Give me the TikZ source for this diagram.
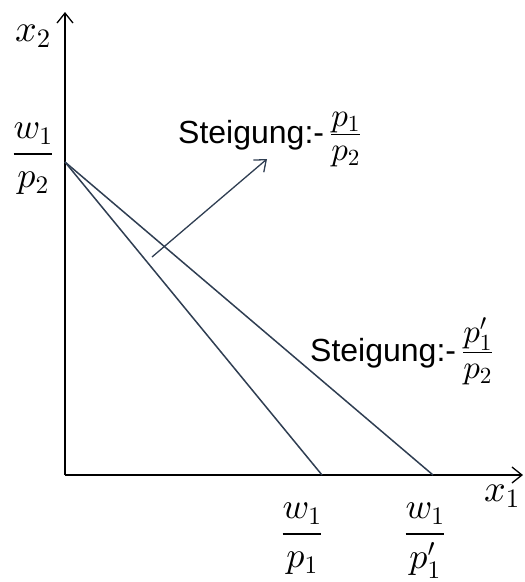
\documentclass[tikz,border=0pt]{standalone}
\usepackage{amsmath}
\usepackage[no-math]{fontspec}
\setmainfont{Liberation Sans}
\DeclareFontShape{OT1}{cmr}{m}{n}{<->cmr10}{}
\DeclareFontShape{OML}{cmm}{m}{it}{<->cmmi10}{}
\DeclareFontShape{OMS}{cmsy}{m}{n}{<->cmsy10}{}
\DeclareFontShape{OMX}{cmex}{m}{n}{<->cmex10}{}
\usetikzlibrary{arrows.meta}
\definecolor{lncol}{HTML}{2F3E52}
\newcommand{\bigfr}[2]{\genfrac{}{}{2.4pt}{0}{#1}{#2}}
\newcommand{\smfr}[2]{\genfrac{}{}{1.4pt}{1}{\textstyle #1}{\textstyle\rule{0pt}{24pt}#2}}
\begin{document}
\begin{tikzpicture}[x=1pt,y=-1pt,
  axis/.style={line width=1.3pt,black,-{Straight Barb[length=10pt,width=16pt,line width=1.3pt]}},
  budget/.style={line width=1.5pt,lncol},
  marker/.style={line width=1.3pt,lncol,-{Straight Barb[length=10pt,width=16pt,line width=1.3pt]}},
  mlab/.style={inner sep=0pt,font=\fontsize{38}{44}\selectfont},
  flab/.style={inner sep=0pt,anchor=base,font=\fontsize{36}{42}\selectfont},
  slab/.style={inner sep=0pt,anchor=base west,font=\fontsize{32}{38}\selectfont}]
\useasboundingbox (0,0) rectangle (525,582);
\coordinate (O) at (65,475);
\coordinate (Ytop) at (65,12);
\coordinate (Xend) at (523,475);
\coordinate (A) at (65,162);
\coordinate (B1) at (322,475);
\coordinate (B2) at (433,475);
\coordinate (Ms) at (152,257);
\coordinate (Me) at (267,159);
\draw[axis] (O) -- (Ytop);
\draw[axis] (O) -- (Xend);
\draw[budget] (A) -- (B1);
\draw[budget] (A) -- (B2);
\draw[marker] (Ms) -- (Me);
\node[mlab] (x2) at (33,36) {$x_2$};
\node[mlab] (x1) at (502,496) {$x_1$};
\node[flab] (w1p2) at (33,163) {$\bigfr{w_1}{p_2}$};
\node[flab] (w1p1) at (302,543) {$\bigfr{w_1}{p_1}$};
\node[flab] (w1p1s) at (425,543) {$\bigfr{w_1}{p_1'}$};
\node[slab] (s1) at (178,143) {Steigung:-\hspace{6pt}{\fontsize{33}{40}\selectfont$\smfr{p_1}{p_2}$}};
\node[slab] (s2) at (310,361) {Steigung:-\hspace{6pt}{\fontsize{33}{40}\selectfont$\smfr{p_1'}{p_2}$}};
\end{tikzpicture}
\end{document}
